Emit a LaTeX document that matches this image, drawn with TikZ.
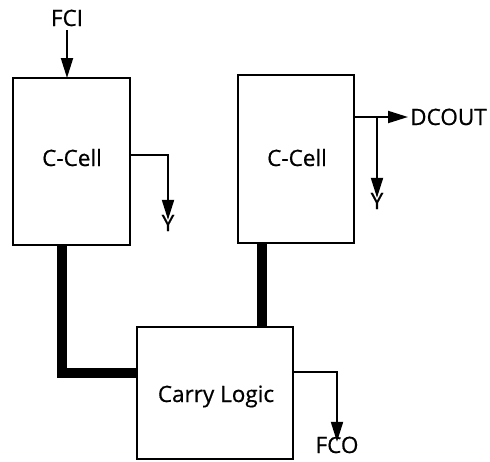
\documentclass[tikz,border=0pt]{standalone}
\usepackage{fontspec}
\setmainfont{Open Sans}
\newfontfamily\lblfont[FakeBold=0.6]{Open Sans}
\usetikzlibrary{arrows.meta}
\begin{document}
\begin{tikzpicture}[x=1pt,y=-1pt,
  box/.style={draw,line width=2.3pt,inner sep=0pt,outer sep=0pt},
  lbl/.style={font=\lblfont\fontsize{22.5}{24}\selectfont,inner sep=0pt,text height=16pt,text depth=0pt},
  wire/.style={line width=2pt},
  arr/.style={wire,-{Triangle[length=20pt,width=12pt]}},
  bus/.style={line width=10pt}]
\useasboundingbox (0,0) rectangle (490,461);
\node[box,minimum width=117pt,minimum height=167pt] (c1) at (71.5,161.5) {};
\node[box,minimum width=116pt,minimum height=168pt] (c2) at (296,159) {};
\node[box,minimum width=156pt,minimum height=132pt] (cl) at (215,393) {};
\node[lbl] (t1) at (72,158) {C-Cell};
\node[lbl] (t2) at (297,158) {C-Cell};
\node[lbl] (t3) at (216,394) {Carry Logic};
\node[lbl] (fci) at (67,18) {FCI};
\node[lbl] (y1) at (168,223) {Y};
\node[lbl] (y2) at (377,201) {Y};
\node[lbl,anchor=west] (dcout) at (410,117) {DCOUT};
\node[lbl] (fco) at (337,445) {FCO};
\coordinate (br) at (377,117);
% FCI
\draw[arr] (fci.south -| 67,0) ++(0,4) -- (c1.north -| 67,0);
% left Y
\draw[arr] (c1.east |- 0,155) -| ([yshift=-5pt]y1.north);
% DCOUT
\draw[arr] (c2.east |- dcout) -- ([xshift=-2pt]dcout.west);
\draw[arr] (br) -- ([yshift=-5pt]y2.north);
% FCO
\draw[arr] (cl.east |- 0,372) -| ([yshift=-5pt]fco.north);
% buses
\draw[bus] (c1.south -| 62,0) |- (cl.west |- 0,373);
\draw[bus] (c2.south -| 262,0) -- (cl.north -| 262,0);
\end{tikzpicture}
\end{document}
